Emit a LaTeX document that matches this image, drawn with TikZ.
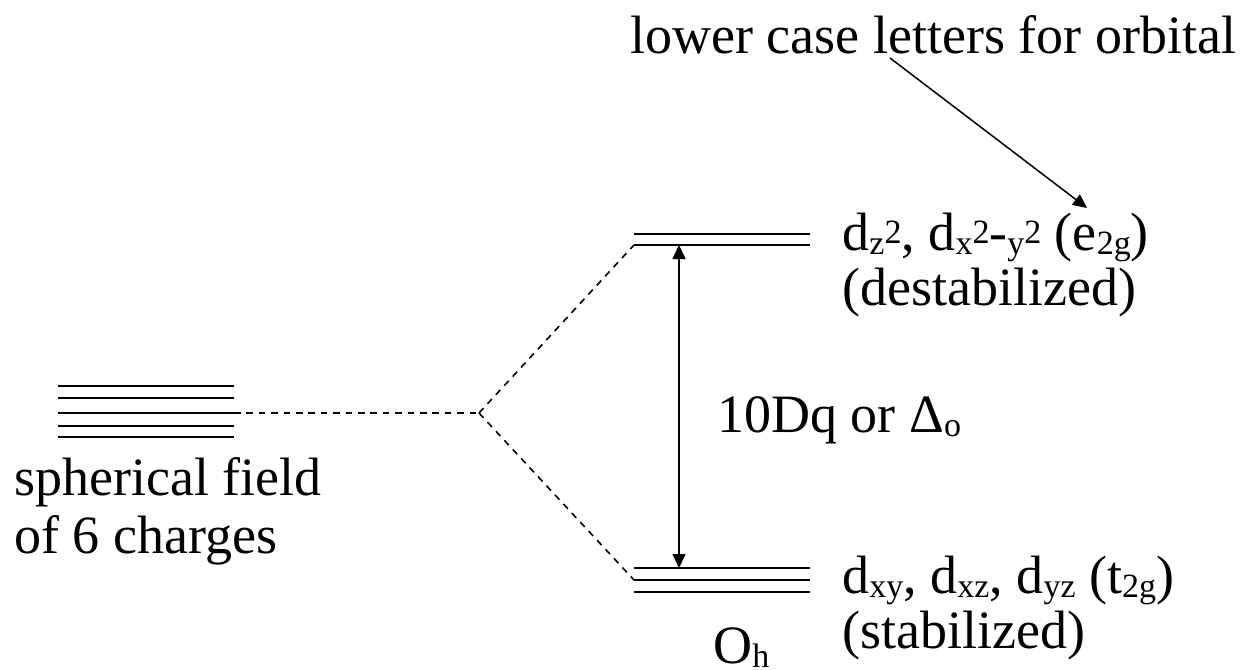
\documentclass[tikz,border=0pt]{standalone}
\usepackage{fontspec}
\setmainfont{Liberation Serif}
\usetikzlibrary{arrows.meta}

\newcommand{\lowtxt}[1]{\raisebox{-0.08em}{\fontsize{17}{17}\selectfont #1}}
\newcommand{\hightxt}[1]{\raisebox{0.12em}{\fontsize{17}{17}\selectfont #1}}

\tikzset{
  level/.style={line width=1.1pt},
  link/.style={line width=0.8pt, dash pattern=on 3.3pt off 2.9pt},
  gap/.style={line width=0.75pt, {Triangle[length=7pt,width=6.5pt]}-{Triangle[length=7pt,width=6.5pt]}},
  pointer/.style={line width=0.75pt, -{Triangle[length=7pt,width=6.5pt]}},
  txt/.style={font=\fontsize{27}{31}\selectfont, inner sep=0pt, anchor=base west}
}

\begin{document}
\begin{tikzpicture}[x=0.5pt,y=-0.5pt]
\useasboundingbox (0,0) rectangle (1240,669);

% spherical field, five degenerate levels
\foreach \y in {386,398,413,426,437}
  \draw[level] (58,\y) -- (234,\y);
\coordinate (sph) at (234,413);
\coordinate (split) at (479,413);

% octahedral levels
\draw[level] (634,234) -- (810,234);
\draw[level] (634,245) -- (810,245);
\draw[level] (634,568) -- (810,568);
\draw[level] (634,580) -- (810,580);
\draw[level] (634,592) -- (810,592);
\coordinate (eg) at (634,245);
\coordinate (tg) at (634,580);
\coordinate (egtop) at (679,245);
\coordinate (tgtop) at (679,568);

\draw[link] (sph) -- (split);
\draw[link] (split) -- (eg);
\draw[link] (split) -- (tg);
\draw[gap] (egtop) -- (tgtop);

% labels
\node[txt] (sphlbl) at (14,495) {spherical field};
\node[txt] (sphlbl2) at (14,553) {of 6 charges};
\node[txt] (delta) at (717,432) {10Dq or Δ\lowtxt{o}};
\node[txt] (eglbl) at (842,250) {d\lowtxt{z}\hightxt{2}, d\lowtxt{x}\hightxt{2}-\lowtxt{y}\hightxt{2} (e\lowtxt{2g})};
\node[txt] (eglbl2) at (842,305) {(destabilized)};
\node[txt] (tglbl) at (842,593) {d\lowtxt{xy}, d\lowtxt{xz}, d\lowtxt{yz} (t\lowtxt{2g})};
\node[txt] (tglbl2) at (842,648) {(stabilized)};
\node[txt] (oh) at (713,663) {O\lowtxt{h}};
\node[txt] (note) at (630,53) {lower case letters for orbital};

\coordinate (tail) at (890,58);
\coordinate (head) at (1087,208);
\draw[pointer] (tail) -- (head);
\end{tikzpicture}
\end{document}
